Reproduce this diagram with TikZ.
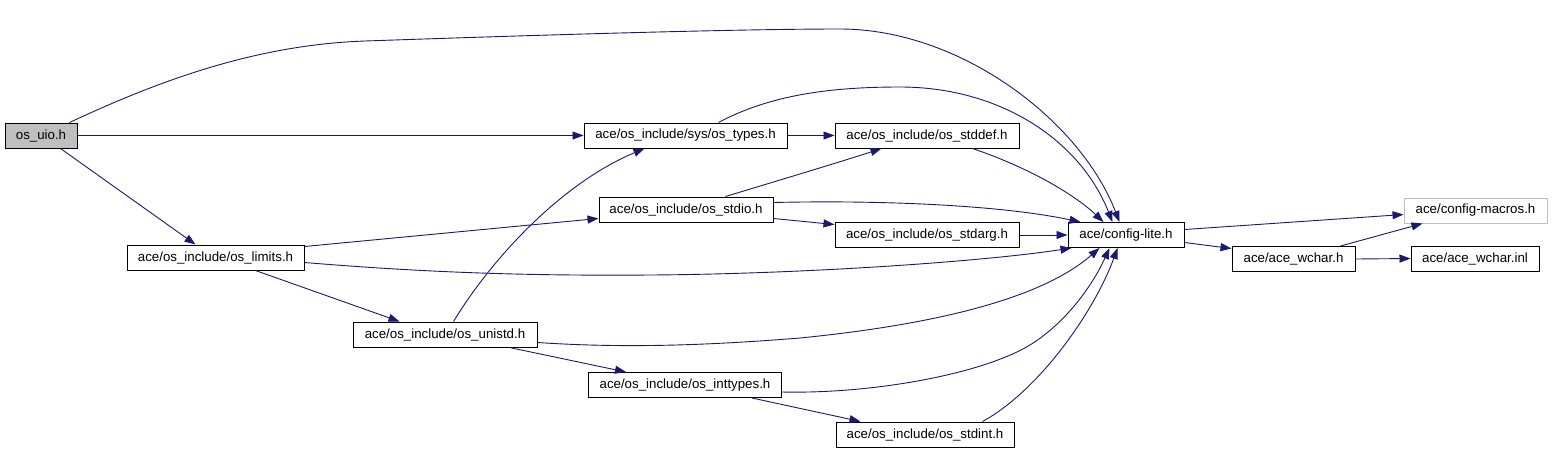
\documentclass[tikz,border=0pt]{standalone}
\usepackage{fontspec}
\setmainfont{Liberation Sans}
\usetikzlibrary{arrows.meta,calc}
\definecolor{edgecol}{HTML}{191970}
\definecolor{grayfill}{HTML}{BFBFBF}
\begin{document}
\begin{tikzpicture}[x=1pt,y=-1pt,
  box/.style={draw=black,line width=1pt,fill=white,inner sep=0pt,minimum height=25pt,
    font=\fontsize{13.3}{15}\selectfont,text=black},
  conn/.style={draw=edgecol,line width=0.9pt,-{Triangle[length=11pt,width=8pt]}}]
\useasboundingbox (0,0) rectangle (1552,451);
% nodes
\node[box,fill=grayfill,minimum width=72pt] (uio) at (41,135.5) {os\_uio.h};
\node[box,minimum width=177pt] (limits) at (215.5,257.5) {ace/os\_include/os\_limits.h};
\node[box,minimum width=203pt] (types) at (685.5,135.5) {ace/os\_include/sys/os\_types.h};
\node[box,minimum width=184pt] (stddef) at (927,135.5) {ace/os\_include/os\_stddef.h};
\node[box,minimum width=174pt] (stdio) at (686,209.5) {ace/os\_include/os\_stdio.h};
\node[box,minimum width=184pt] (stdarg) at (927,235) {ace/os\_include/os\_stdarg.h};
\node[box,minimum width=116pt] (cfg) at (1126,235) {ace/config-lite.h};
\node[box,draw=grayfill,minimum width=143pt] (macros) at (1475.5,210.5) {ace/config-macros.h};
\node[box,minimum width=123pt] (wchar) at (1293.5,259) {ace/ace\_wchar.h};
\node[box,minimum width=128pt] (inl) at (1475,258.5) {ace/ace\_wchar.inl};
\node[box,minimum width=184pt] (unistd) at (445,334.5) {ace/os\_include/os\_unistd.h};
\node[box,minimum width=193pt] (inttypes) at (685,385) {ace/os\_include/os\_inttypes.h};
\node[box,minimum width=178pt] (stdint) at (925,434.5) {ace/os\_include/os\_stdint.h};
% connectors
\draw[conn] ($(uio.north west)+(65,0)$) .. controls (150,85) and (250,45) .. (365,41)
  .. controls (550,34.6) and (740,29) .. (840,29)
  .. controls (960,29) and (1080,120) .. ($(cfg.north west)+(52,0)$);
\draw[conn] (uio.east) -- (types.west);
\draw[conn] ($(uio.south west)+(56,0)$) -- ($(limits.north west)+(69,0)$);
\draw[conn] (types.east) -- (stddef.west);
\draw[conn] ($(types.north west)+(135,0)$) .. controls (770,95) and (830,87) .. (900,87)
  .. controls (1000,87) and (1080,140) .. ($(cfg.north west)+(45,0)$);
\draw[conn] ($(stddef.south west)+(138,0)$) .. controls (1030,168) and (1075,195) .. ($(cfg.north west)+(36,0)$);
\draw[conn] ($(stdio.north west)+(127,0)$) .. controls (780,180) and (840,162) .. ($(stddef.south west)+(47,0)$);
\draw[conn] ($(stdio.north east)+(0,6)$) .. controls (880,200) and (1000,205) .. ($(cfg.north west)+(13,0)$);
\draw[conn] ($(stdio.south east)+(0,-4)$) -- ($(stdarg.north west)+(0,2.5)$);
\draw[conn] (stdarg.east) -- (cfg.west);
\draw[conn] ($(limits.north east)+(0,2)$) -- ($(stdio.south west)+(0,-4)$);
\draw[conn] ($(limits.north east)+(0,18)$) .. controls (420,272) and (520,276) .. (650,275)
  .. controls (800,274) and (980,262) .. ($(cfg.south west)+(4,0)$);
\draw[conn] ($(limits.south west)+(129,0)$) -- ($(unistd.north west)+(47,0)$);
\draw[conn] ($(unistd.north west)+(101,0)$) .. controls (492,258) and (562,183) .. ($(types.south west)+(61,0)$);
\draw[conn] ($(unistd.north east)+(0,21)$) .. controls (620,348) and (700,346) .. (800,338)
  .. controls (930,325) and (1040,300) .. ($(cfg.south west)+(32,0)$);
\draw[conn] ($(unistd.south west)+(157,0)$) -- ($(inttypes.north west)+(38,0)$);
\draw[conn] ($(inttypes.north east)+(0,20)$) .. controls (870,394) and (980,375) .. (1030,345)
  .. controls (1070,320) and (1095,280) .. ($(cfg.south west)+(42,0)$);
\draw[conn] ($(inttypes.south west)+(164,0)$) -- ($(stdint.north west)+(25,0)$);
\draw[conn] ($(stdint.north west)+(147,0)$) .. controls (1040,390) and (1095,310) .. ($(cfg.south west)+(50,0)$);
\draw[conn] ($(cfg.north east)+(0,7.5)$) -- ($(macros.north west)+(0,17)$);
\draw[conn] ($(cfg.south east)+(0,-5.5)$) -- ($(wchar.north west)+(0,2.5)$);
\draw[conn] ($(wchar.north west)+(109,0)$) -- ($(macros.south west)+(19,0)$);
\draw[conn] (wchar.east) -- (inl.west);
\end{tikzpicture}
\end{document}
